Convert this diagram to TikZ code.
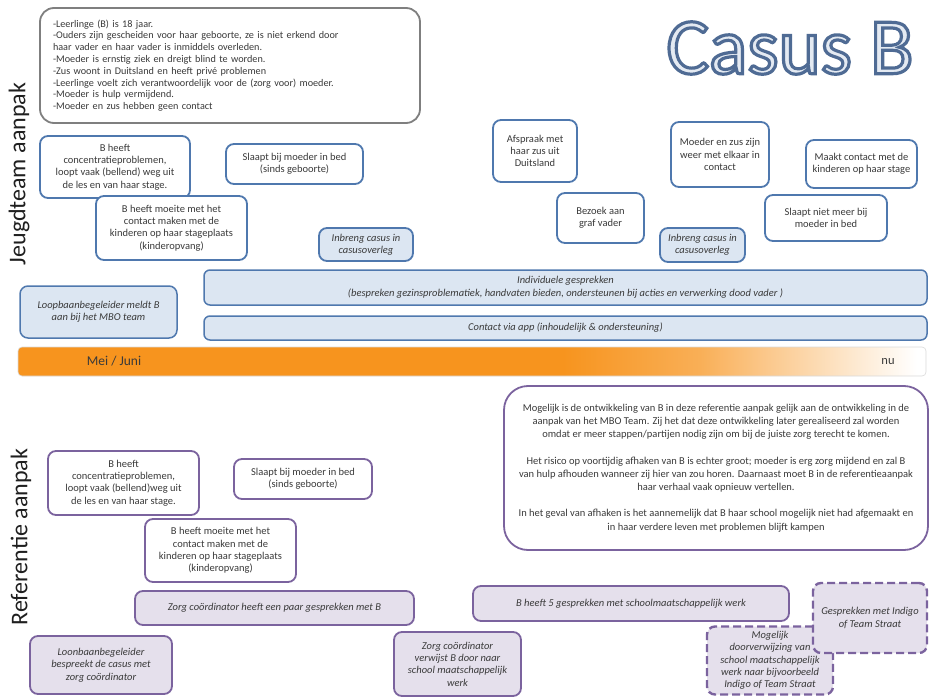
\documentclass[tikz,border=0pt]{standalone}
\usepackage{fontspec}
\setmainfont{Carlito}
% outlined title face: glyphs filled and stroked
\newfontfamily\titleface{Carlito}[RawFeature={embolden=4}]

\definecolor{ink}{HTML}{3A3A3A}
\definecolor{blueedge}{HTML}{4F78AE}
\definecolor{bluefill}{HTML}{DCE6F2}
\definecolor{purpleedge}{HTML}{7B639E}
\definecolor{purplefill}{HTML}{E5E0EC}
\definecolor{grayedge}{HTML}{7F7F7F}
\definecolor{barorange}{RGB}{247,148,30}
\definecolor{titlefill}{HTML}{E4EAF2}

% timeline bar: solid orange fading to white towards "nu"
\pgfdeclarehorizontalshading{timebar}{100bp}{%
  color(0bp)=(barorange); color(55bp)=(barorange);
  color(62.5bp)=(barorange!75!white); color(68bp)=(barorange!40!white);
  color(72.5bp)=(barorange!12!white); color(74.5bp)=(white); color(100bp)=(white)}

\newcommand\boxfont{\fontsize{10.5}{12.3}\selectfont}

\tikzset{
  card/.style={rounded corners=8pt, line width=1.8pt, align=center,
    inner sep=0pt, text=ink, font=\boxfont},
  bluecard/.style={card, draw=blueedge, fill=white},
  bluenote/.style={card, draw=blueedge, fill=bluefill, font=\boxfont\itshape},
  purplecard/.style={card, draw=purpleedge, fill=white},
  purplenote/.style={card, draw=purpleedge, fill=purplefill, font=\boxfont\itshape},
  maybenote/.style={purplenote, line width=2.4pt, dash pattern=on 8pt off 4pt},
  lanelabel/.style={rotate=90, font=\fontsize{24}{27}\selectfont, text=black!88},
}

\begin{document}
\begin{tikzpicture}[x=1pt, y=-1pt]
\useasboundingbox (0,0) rectangle (929,698);
\clip (0,0) rectangle (929,698);

% title: light fill, blue-grey stroke
\node (title) at (790,48) {\fontsize{80}{80}\selectfont\titleface
  \textcolor{titlefill}{\special{pdf:code 0.31 0.42 0.58 RG}Casus B}};

% lane labels
\node[lanelabel] (laneA) at (19,174) {Jeugdteam aanpak};
\node[lanelabel] (laneB) at (21,537) {Referentie aanpak};

% case summary
\node[card, draw=grayedge, fill=white, rounded corners=14pt,
      minimum width=380pt, minimum height=115pt, text width=354pt, align=left,
      font=\fontsize{10.2}{11.8}\selectfont] (info) at (230,65.5) {%
-Leerlinge (B) is 18 jaar.\\
-Ouders zijn gescheiden voor haar geboorte, ze is niet erkend door\\
haar vader en haar vader is inmiddels overleden.\\
-Moeder is ernstig ziek en dreigt blind te worden.\\
-Zus woont in Duitsland en heeft privé problemen\\
-Leerlinge voelt zich verantwoordelijk voor de (zorg voor) moeder.\\
-Moeder is hulp vermijdend.\\
-Moeder en zus hebben geen contact};

% ---- Jeugdteam aanpak ----
\node[bluecard, minimum width=150pt, minimum height=62pt] (a1) at (115,167)
  {B heeft\\concentratieproblemen,\\loopt vaak (bellend) weg uit\\de les en van haar stage.};
\node[bluecard, minimum width=137pt, minimum height=40pt] (a2) at (294.5,164)
  {Slaapt bij moeder in bed\\(sinds geboorte)};
\node[bluecard, minimum width=151pt, minimum height=64pt] (a3) at (171.5,228)
  {B heeft moeite met het\\contact maken met de\\kinderen op haar stageplaats\\(kinderopvang)};
\node[bluenote, minimum width=94pt, minimum height=33pt] (a4) at (366,244.5)
  {Inbreng casus in\\casusoverleg};
\node[bluecard, minimum width=84pt, minimum height=62pt] (a5) at (535,151)
  {Afspraak met\\haar zus uit\\Duitsland};
\node[bluecard, minimum width=87pt, minimum height=50pt] (a6) at (600.5,218)
  {Bezoek aan\\graf vader};
\node[bluenote, minimum width=85pt, minimum height=34pt] (a7) at (702.5,245)
  {Inbreng casus in\\casusoverleg};
\node[bluecard, minimum width=98pt, minimum height=65pt] (a8) at (720,154.5)
  {Moeder en zus zijn\\weer met elkaar in\\contact};
\node[bluecard, minimum width=111pt, minimum height=48pt] (a9) at (861.5,164)
  {Maakt contact met de\\kinderen op haar stage};
\node[bluecard, minimum width=122pt, minimum height=46pt] (a10) at (826,218)
  {Slaapt niet meer bij\\moeder in bed};

\node[bluenote, line width=1.5pt, rounded corners=6pt, minimum width=723pt, minimum height=35pt,
      font=\fontsize{10.5}{13}\selectfont\itshape] (talks) at (565.5,287.5)
  {Individuele gesprekken\\(bespreken gezinsproblematiek, handvaten bieden, ondersteunen bij acties en verwerking dood vader )};
\node[bluenote, line width=1.5pt, rounded corners=6pt, minimum width=723pt, minimum height=24pt] (app) at (565.5,328)
  {Contact via app (inhoudelijk \& ondersteuning)};
\node[bluenote, line width=1.5pt, minimum width=157pt, minimum height=52pt] (signal) at (98.5,312)
  {Loopbaanbegeleider meldt B\\aan bij het MBO team};

% ---- timeline ----
\node[shading=timebar, draw=black!15, line width=0.6pt, rounded corners=4pt,
      minimum width=908pt, minimum height=29pt, inner sep=0pt] (bar) at (472,361.5) {};
\node[text=ink, font=\fontsize{13.5}{13.5}\selectfont] (start) at (114,361.5) {Mei / Juni};
\node[text=ink, font=\fontsize{12.5}{12.5}\selectfont] (now) at (888,361.5) {nu};

% ---- Referentie aanpak ----
\node[purplecard, minimum width=151pt, minimum height=64pt] (b1) at (123.5,483)
  {B heeft\\concentratieproblemen,\\loopt vaak (bellend)weg uit\\de les en van haar stage.};
\node[purplecard, minimum width=138pt, minimum height=40pt] (b2) at (303,479)
  {Slaapt bij moeder in bed\\(sinds geboorte)};
\node[purplecard, minimum width=151pt, minimum height=63pt] (b3) at (220.5,550.5)
  {B heeft moeite met het\\contact maken met de\\kinderen op haar stageplaats\\(kinderopvang)};
\node[purplecard, rounded corners=24pt, minimum width=424pt, minimum height=164pt,
      font=\fontsize{10.5}{13.2}\selectfont] (remark) at (716,468) {%
Mogelijk is de ontwikkeling van B in deze referentie aanpak gelijk aan de ontwikkeling in de\\
aanpak van het MBO Team. Zij het dat deze ontwikkeling later gerealiseerd zal worden\\
omdat er meer stappen/partijen nodig zijn om bij de juiste zorg terecht te komen.\\[13.2pt]
Het risico op voortijdig afhaken van B is echter groot; moeder is erg zorg mijdend en zal B\\
van hulp afhouden wanneer zij hier van zou horen. Daarnaast moet B in de referentieaanpak\\
haar verhaal vaak opnieuw vertellen.\\[13.2pt]
In het geval van afhaken is het aannemelijk dat B haar school mogelijk niet had afgemaakt en\\
in haar verdere leven met problemen blijft kampen};

\node[purplenote, minimum width=279pt, minimum height=34pt] (b4) at (274.5,608)
  {Zorg coördinator heeft een paar gesprekken met B};
\node[purplenote, minimum width=316pt, minimum height=35pt] (b5) at (631,603.5)
  {B heeft 5 gesprekken met schoolmaatschappelijk werk};
\node[purplenote, minimum width=142pt, minimum height=58pt] (b6) at (101,665)
  {Loonbaanbegeleider\\bespreekt de casus met\\zorg coördinator};
\node[purplenote, minimum width=127pt, minimum height=64pt] (b7) at (457.5,664)
  {Zorg coördinator\\verwijst B door naar\\school maatschappelijk\\werk};
\node[maybenote, minimum width=126pt, minimum height=68pt] (b8) at (770,660.5)
  {Mogelijk\\doorverwijzing van\\school maatschappelijk\\werk naar bijvoorbeeld\\Indigo of Team Straat};
\node[maybenote, minimum width=114pt, minimum height=70pt] (b9) at (870,618)
  {Gesprekken met Indigo\\of Team Straat};
\end{tikzpicture}
\end{document}
